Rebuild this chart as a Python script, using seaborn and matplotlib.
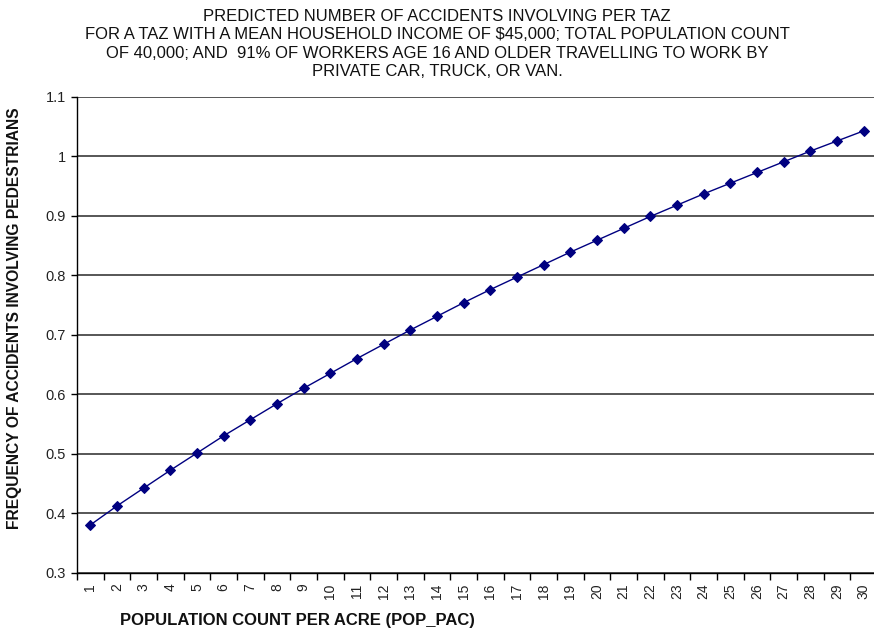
import matplotlib
matplotlib.use("Agg")
import matplotlib.pyplot as plt
import seaborn as sns
import pandas as pd
import numpy as np

# Population count per acre (categories) and predicted pedestrian accident frequency
pop_pac = list(range(1, 31))
accidents = [0.380, 0.412, 0.442, 0.472, 0.501, 0.530, 0.557, 0.584, 0.610, 0.635,
             0.660, 0.684, 0.708, 0.731, 0.754, 0.776, 0.797, 0.818, 0.839, 0.859,
             0.879, 0.899, 0.918, 0.937, 0.955, 0.973, 0.991, 1.009, 1.026, 1.043]
y_ticks = [0.3, 0.4, 0.5, 0.6, 0.7, 0.8, 0.9, 1.0, 1.1]
y_tick_labels = ["0.3", "0.4", "0.5", "0.6", "0.7", "0.8", "0.9", "1", "1.1"]

title = ("PREDICTED NUMBER OF ACCIDENTS INVOLVING PER TAZ\n"
         "FOR A TAZ WITH A MEAN HOUSEHOLD INCOME OF $45,000; TOTAL POPULATION COUNT\n"
         "OF 40,000; AND  91% OF WORKERS AGE 16 AND OLDER TRAVELLING TO WORK BY\n"
         "PRIVATE CAR, TRUCK, OR VAN.")

sns.set_theme(style="white")
plt.rcParams["font.family"] = ["Liberation Sans", "DejaVu Sans"]

df = pd.DataFrame({"pop": pop_pac, "acc": accidents})

fig = plt.figure(figsize=(8.74, 6.33), dpi=100)
ax = fig.add_axes([77 / 874, 60.5 / 633, 800 / 874, 475.5 / 633])

sns.lineplot(data=df, x="pop", y="acc", ax=ax, color="#000080", linewidth=1.0,
             marker="D", markersize=5.5, markeredgecolor="#000080",
             markerfacecolor="#000080")

ax.set_xlim(0.5, 30.5)
ax.set_ylim(0.3, 1.1)

# Category labels at centres, tick marks at category boundaries
ax.set_xticks(pop_pac)
ax.set_xticklabels([str(p) for p in pop_pac], rotation=90, fontsize=10)
ax.set_xticks(np.arange(0.5, 31, 1.0), minor=True)
ax.tick_params(axis="x", which="major", length=0, pad=8, labelcolor="#222222")
ax.tick_params(axis="x", which="minor", length=5, width=1, color="black",
               direction="out", bottom=True)

ax.set_yticks(y_ticks)
ax.set_yticklabels(y_tick_labels, fontsize=10.5)
ax.tick_params(axis="y", length=4, width=1, color="black", direction="out",
               left=True, pad=4, labelcolor="#222222")

ax.grid(axis="y", color="#3a3a3a", linewidth=1.2)
ax.grid(axis="x", visible=False)
for side in ["top", "right"]:
    ax.spines[side].set_visible(False)
for side in ["left", "bottom"]:
    ax.spines[side].set_color("black")
    ax.spines[side].set_linewidth(1.0)

ax.set_xlabel("")
ax.set_ylabel("")

fig.text(0.5, 1 - 44 / 633, title, ha="center", va="center", fontsize=12,
         linespacing=1.26, color="#111111")
fig.text(15 / 874, 1 - 318 / 633, "FREQUENCY OF ACCIDENTS INVOLVING PEDESTRIANS",
         rotation=90, ha="center", va="center", fontsize=11.25, fontweight="bold",
         color="#111111")
fig.text(297 / 874, 1 - 620 / 633, "POPULATION COUNT PER ACRE (POP_PAC)",
         ha="center", va="center", fontsize=12, fontweight="bold", color="#111111")

fig.savefig("out.png", dpi=100, facecolor="white")
